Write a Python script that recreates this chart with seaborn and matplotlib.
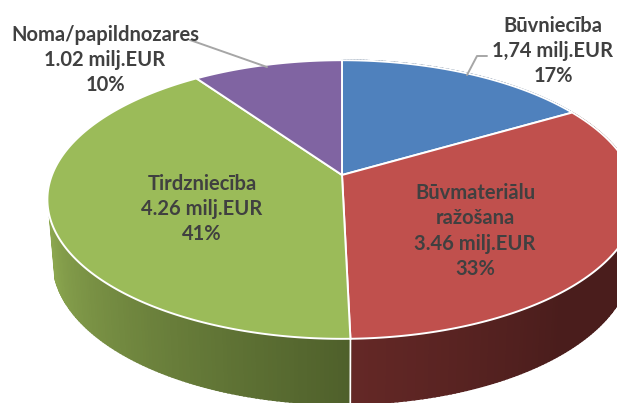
import numpy as np
import matplotlib
matplotlib.use('Agg')
import matplotlib.pyplot as plt
import seaborn as sns

# Data
categories = ['Būvniecība', 'Būvmateriālu\nražošana', 'Tirdzniecība', 'Noma/papildnozares']
values = [1.74, 3.46, 4.26, 1.02]
value_text = ['1,74 milj.EUR', '3.46 milj.EUR', '4.26 milj.EUR', '1.02 milj.EUR']
percent_text = ['17%', '33%', '41%', '10%']

top_colors = ['#4f81bd', '#c0504d', '#9bbb59', '#8064a2']
# shading stops along each slice, clockwise
side_colors = [['#2f4d71', '#2f4d71'],
               ['#4a1d1c', '#4a1d1c', '#4a1d1c', '#642826'],
               ['#4f602b', '#8ba64f'],
               ['#4c3b61', '#4c3b61']]

sns.set_theme(style='white')
plt.rcParams['font.family'] = ['Lato', 'DejaVu Sans']

K = 0.176  # perspective of the tilted disc
WALL_END = np.radians(253)  # the wall is hidden behind the disc after this angle


def project(theta, cx, cy, rx, ry):
    # theta runs clockwise from 12 o'clock, y axis is flipped (pixels)
    u, v = np.sin(theta), np.cos(theta)
    w = 1 + K * v
    return cx + rx * u / w, cy - ry * v / w


def top_rim(theta):
    return project(theta, 342, 175, 290, 135)


def bottom_rim(theta):
    return project(theta, 342, 236, 284.5, 138.6)


fig = plt.figure(figsize=(6.17, 4.03), dpi=100)
ax = fig.add_axes([0, 0, 1, 1])
ax.set_xlim(0, 617)
ax.set_ylim(403, 0)
ax.axis('off')

edges = np.cumsum([0] + values) / sum(values) * 2 * np.pi

# side wall first, cut in thin strips so the shading can run along it
for i in range(len(values)):
    if edges[i] >= WALL_END:
        continue
    end = min(edges[i + 1], WALL_END)
    n = max(int((end - edges[i]) * 80), 2)
    thetas = np.linspace(edges[i], end, n + 1)
    shades = sns.blend_palette(side_colors[i], n)
    for j in range(n):
        t = thetas[j:j + 2]
        xs = np.r_[top_rim(t)[0], bottom_rim(t[::-1])[0]]
        ys = np.r_[top_rim(t)[1], bottom_rim(t[::-1])[1]]
        ax.fill(xs, ys, facecolor=shades[j], edgecolor=shades[j], lw=1.2, zorder=2)

# white seam on the side between the green and the red slice
seam = edges[2]
ax.plot([top_rim(seam)[0], bottom_rim(seam)[0]], [top_rim(seam)[1], bottom_rim(seam)[1]],
        color='white', lw=1.2, zorder=3)

# top surface
for i in range(len(values)):
    t = np.linspace(edges[i], edges[i + 1], 200)
    x, y = top_rim(t)
    ax.fill(np.r_[342, x], np.r_[175, y], facecolor=top_colors[i], edgecolor='white', lw=1.4, zorder=4)

# leader lines
ax.plot([190, 267], [40, 67], color='#a6a6a6', lw=1.4, zorder=5)
ax.plot([467, 477, 487], [75, 56, 56], color='#a6a6a6', lw=1.4, zorder=5)

# labels
label_pos = [(553, 51), (475, 231), (202, 209), (105, 60)]
for i, (lx, ly) in enumerate(label_pos):
    ax.text(lx, ly, categories[i] + '\n' + value_text[i] + '\n' + percent_text[i],
            ha='center', va='center', fontsize=14.5, fontweight='bold', color='#404040',
            linespacing=1.34, zorder=6)

fig.savefig('out.png', dpi=100)
